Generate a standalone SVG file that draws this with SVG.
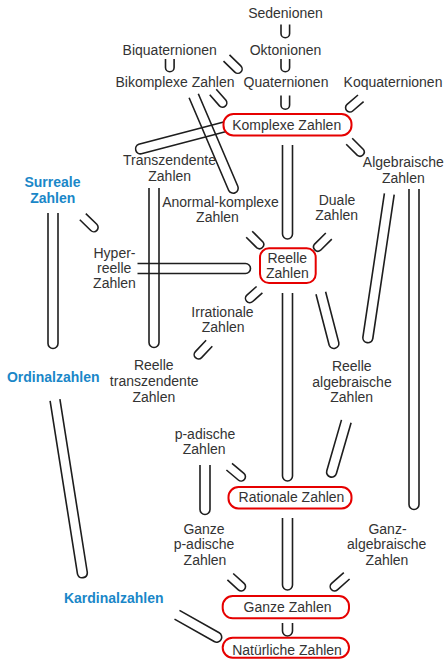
<svg xmlns="http://www.w3.org/2000/svg" width="446" height="659" viewBox="0 0 446 659">
<style>
text{font-family:"Liberation Sans",Arial,sans-serif;font-size:14px;fill:#333;text-anchor:middle}
text.b{fill:#1a87c8;font-weight:bold}
#connectors path{fill:none;stroke:#1e1e1e;stroke-width:1.6}
rect.box{fill:#fff;stroke:#e60000;stroke-width:2}
</style>
<rect width="446" height="659" fill="#fff"/>
<g id="connectors">
<path d="M281,24.5V33.5A4.3,4.3 0 0 0 289.6,33.5V24.5"/>
<path d="M281,59V67.5A4.3,4.3 0 0 0 289.6,67.5V59"/>
<path d="M281,95.5V105A4.3,4.3 0 0 0 289.6,105V95.5"/>
<path d="M165.5,59V67.5A4.3,4.3 0 0 0 174.1,67.5V59"/>
<path d="M223.5,61.1L234.8,72.1A4.3,4.3 0 0 0 240.8,65.9L229.5,54.9"/>
<path d="M209.75,94.8L219.45,105.9A4.3,4.3 0 0 0 225.95,100.3L216.25,89.2"/>
<path d="M358,95L347.1,104.4A4.3,4.3 0 0 0 352.7,111L363.6,101.6"/>
<path d="M346.2,144.2L357.4,155.4A4.3,4.3 0 0 0 363.4,149.4L352.2,138.2"/>
<path d="M224.7,121.7L138.8,144.2A5,5 0 0 0 141.4,153.8L227.3,131.3"/>
<path d="M189.1,97.8L228.6,190.2A5,5 0 0 0 237.8,186.2L198.3,93.8"/>
<path d="M149,188V342.5A5,5 0 0 0 159,342.5V188"/>
<path d="M137.5,273.5H245.5A5,5 0 0 0 245.5,263.5H137.5"/>
<path d="M48,213V343.5A5,5 0 0 0 58,343.5V213"/>
<path d="M79.8,219.8L90.8,230.5A4.3,4.3 0 0 0 96.8,224.3L85.8,213.6"/>
<path d="M282.5,145V234A5,5 0 0 0 292.5,234V145"/>
<path d="M246.2,237.2L256.9,247.9A4.3,4.3 0 0 0 262.9,241.9L252.2,231.2"/>
<path d="M325.8,233L314.6,244.1A4.3,4.3 0 0 0 320.6,250.2L331.8,239.1"/>
<path d="M256.6,286.5L246.9,295.1A4.3,4.3 0 0 0 252.7,301.5L262.4,292.9"/>
<path d="M206.1,340.3L195.4,351.6A4.3,4.3 0 0 0 201.6,357.6L212.3,346.3"/>
<path d="M316,294.3L329.2,345.2A5,5 0 0 0 338.8,342.6L325.6,291.7"/>
<path d="M384.4,193.3L362.9,337.1A5,5 0 0 0 372.8,338.5L394.2,194.7"/>
<path d="M409,189V504.5A5,5 0 0 0 419,504.5V189"/>
<path d="M282.5,293V476A5,5 0 0 0 292.5,476V293"/>
<path d="M341.5,419.9L326.8,470.7A5,5 0 0 0 336.4,473.5L351.1,422.7"/>
<path d="M200,465V509.5A5,5 0 0 0 210,509.5V465"/>
<path d="M226.4,470L238.3,480A4.3,4.3 0 0 0 243.9,473.4L232,463.4"/>
<path d="M282.5,518V585A5,5 0 0 0 292.5,585V518"/>
<path d="M227.4,579.9L238.3,589.8A4.3,4.3 0 0 0 244.1,583.4L233.2,573.5"/>
<path d="M343.8,572.6L331.6,583.4A4.3,4.3 0 0 0 337.4,589.8L349.6,579"/>
<path d="M282.5,623V631A5,5 0 0 0 292.5,631V623"/>
<path d="M50.1,400.8L77.5,574.1A5,5 0 0 0 87.3,572.5L59.9,399.2"/>
<path d="M174.5,619.1L214.2,641.5A5,5 0 0 0 219.2,632.8L179.5,610.4"/>
</g>
<g id="sedenionen"><text x="285.5" y="18">Sedenionen</text></g>
<g id="oktonionen"><text x="285.5" y="55">Oktonionen</text></g>
<g id="biquaternionen"><text x="169.7" y="55">Biquaternionen</text></g>
<g id="bikomplexe"><text x="175" y="87">Bikomplexe Zahlen</text></g>
<g id="quaternionen"><text x="286" y="87">Quaternionen</text></g>
<g id="koquaternionen"><text x="393" y="87">Koquaternionen</text></g>
<g id="komplexe"><rect class="box" x="223.5" y="114" width="128" height="21.5" rx="10"/><text x="286.7" y="130">Komplexe Zahlen</text></g>
<g id="transzendente"><text x="169.5" y="165">Transzendente</text><text x="169.7" y="181">Zahlen</text></g>
<g id="algebraische"><text x="403.3" y="166.5">Algebraische</text><text x="403.3" y="182.5">Zahlen</text></g>
<g id="surreale"><text class="b" x="52.5" y="187">Surreale</text><text class="b" x="52.8" y="203">Zahlen</text></g>
<g id="anormal"><text x="220.5" y="207">Anormal-komplexe</text><text x="217.5" y="222">Zahlen</text></g>
<g id="duale"><text x="337" y="205">Duale</text><text x="336.7" y="220">Zahlen</text></g>
<g id="reelle"><rect class="box" x="260" y="248.3" width="55.7" height="34.7" rx="9"/><text x="287.3" y="262.7">Reelle</text><text x="287.3" y="278.3">Zahlen</text></g>
<g id="hyperreelle"><text x="114.5" y="258.3">Hyper-</text><text x="114.2" y="273.3">reelle</text><text x="114.5" y="288.3">Zahlen</text></g>
<g id="irrationale"><text x="222.5" y="317">Irrationale</text><text x="223.2" y="332">Zahlen</text></g>
<g id="reelle-transzendente"><text x="153.8" y="370">Reelle</text><text x="154.2" y="386">transzendente</text><text x="153.8" y="401.7">Zahlen</text></g>
<g id="ordinalzahlen"><text class="b" x="53.2" y="381.7">Ordinalzahlen</text></g>
<g id="reelle-algebraische"><text x="351.8" y="371">Reelle</text><text x="352" y="386.7">algebraische</text><text x="351.7" y="402.3">Zahlen</text></g>
<g id="p-adische"><text x="205" y="439.3">p-adische</text><text x="204.2" y="454.3">Zahlen</text></g>
<g id="rationale"><rect class="box" x="228.5" y="487" width="123" height="21.5" rx="10"/><text x="291.5" y="501.7">Rationale Zahlen</text></g>
<g id="ganze-p-adische"><text x="204" y="534">Ganze</text><text x="204" y="549.3">p-adische</text><text x="205" y="565">Zahlen</text></g>
<g id="ganz-algebraische"><text x="387.5" y="534">Ganz-</text><text x="386.7" y="549.3">algebraische</text><text x="387" y="565">Zahlen</text></g>
<g id="kardinalzahlen"><text class="b" x="113.7" y="602.7">Kardinalzahlen</text></g>
<g id="ganze"><rect class="box" x="222.7" y="596" width="126.3" height="22.3" rx="10"/><text x="287.5" y="611.7">Ganze Zahlen</text></g>
<g id="natuerliche"><rect class="box" x="222.7" y="637.7" width="126.3" height="20" rx="10"/><text x="287" y="655">Natürliche Zahlen</text></g>
</svg>
